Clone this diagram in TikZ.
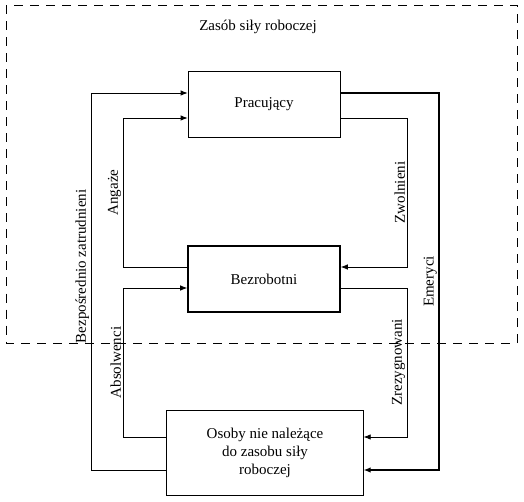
\documentclass[tikz,border=0pt]{standalone}
\usepackage{fontspec}
\setmainfont{Liberation Serif}
\usetikzlibrary{arrows.meta,calc}

\begin{document}
\begin{tikzpicture}[x=1pt,y=-1pt,font=\fontsize{15}{18}\selectfont,
  box/.style={draw,line width=0.8pt,minimum width=152pt,minimum height=65.5pt,align=center,inner sep=0pt},
  flow/.style={line width=0.8pt,-{Latex[length=7pt,width=5.5pt]}},
  lab/.style={rotate=90,anchor=south,inner sep=1.5pt}]
\useasboundingbox (0,0) rectangle (524,502);

% Zasob sily roboczej
\draw[line width=0.7pt,dash pattern=on 9pt off 7pt] (6.5,5.5) rectangle (517,343);
\node (zasob) at (258,27) {Zasób siły roboczej};

% Boxes
\node[box] (prac) at (264,104.5) {Pracujący};
\node[box,line width=1.6pt] (bezr) at (264,279) {Bezrobotni};
\node[box,minimum width=196.5pt,minimum height=85pt] (osoby) at (265,452.5) {Osoby nie należące\\do zasobu siły\\roboczej};

% Ports
\coordinate (pracA) at ([yshift=11.5pt]prac.west);
\coordinate (pracB) at ([yshift=-13.5pt]prac.west);
\coordinate (pracC) at ([yshift=11.5pt]prac.east);
\coordinate (pracD) at ([yshift=-13.5pt]prac.east);
\coordinate (bezrA) at ([yshift=12pt]bezr.west);
\coordinate (bezrB) at ([yshift=-9pt]bezr.west);
\coordinate (bezrC) at ([yshift=12pt]bezr.east);
\coordinate (bezrD) at ([yshift=-9pt]bezr.east);
\coordinate (osobyA) at ([yshift=15.5pt]osoby.west);
\coordinate (osobyB) at ([yshift=-17.5pt]osoby.west);
\coordinate (osobyC) at ([yshift=15.5pt]osoby.east);
\coordinate (osobyD) at ([yshift=-17.5pt]osoby.east);

% Rails
\coordinate (railL) at (91,0);
\coordinate (railA) at (123,0);
\coordinate (railZ) at (407,0);
\coordinate (railE) at (439,0);

% Flows
\draw[flow] (osobyB) -| node[lab,pos=0.77] {Bezpośrednio zatrudnieni} (railL |- pracA) -- (pracA);
\draw[flow] (bezrA) -| node[lab,pos=0.75] {Angaże} (railA |- pracB) -- (pracB);
\draw[flow] (osobyA) -| node[lab,pos=0.75] {Absolwenci} (railA |- bezrB) -- (bezrB);
\draw[flow] (pracD) -| node[lab,pos=0.75] {Zwolnieni} (railZ |- bezrC) -- (bezrC);
\draw[flow] (bezrD) -| node[lab,pos=0.75] {Zrezygnowani} (railZ |- osobyC) -- (osobyC);
\draw[flow,line width=1.2pt] (pracC) -| node[lab,pos=0.75] {Emeryci} (railE |- osobyD) -- (osobyD);

\end{tikzpicture}
\end{document}
